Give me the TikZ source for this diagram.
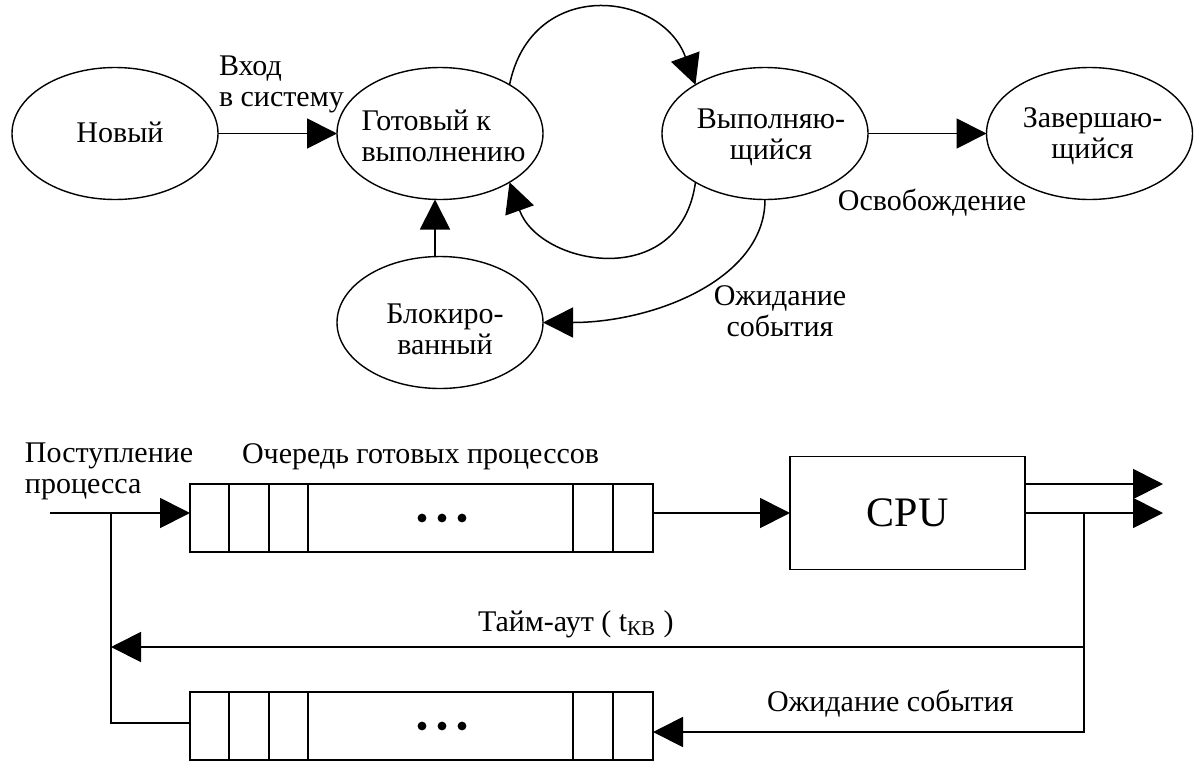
\documentclass[tikz,border=0pt]{standalone}
\usepackage{fontspec}
\setmainfont{Liberation Serif}
\usetikzlibrary{arrows.meta,shapes.geometric}

\begin{document}
\begin{tikzpicture}[x=0.5pt,y=-0.5pt,
  every node/.style={inner sep=0pt, outer sep=0pt},
  txt/.style={font=\fontsize{15}{15.5}\selectfont},
  lbl/.style={txt, align=center},
  state/.style={ellipse, draw, line width=0.7pt, minimum width=103pt, minimum height=66pt},
  arr/.style={line width=0.9pt, -{Triangle[length=15pt,width=15pt]}},
  curvearr/.style={line width=0.75pt, -{Triangle[length=15pt,width=15pt]}},
  wire/.style={line width=0.9pt},
  queue/.style={draw, line width=0.9pt, minimum width=231.5pt, minimum height=34pt},
  cpubox/.style={draw, line width=0.9pt, minimum width=117.5pt, minimum height=56.5pt,
                 font=\fontsize{21}{21}\selectfont},
]
\useasboundingbox (0,0) rectangle (1194,761);

% ---------- process state graph ----------
\node[state, label={[lbl, xshift=2.5pt, yshift=0.75pt]center:Новый}] (new) at (115,133.5) {};
\node[state, label={[txt, align=left, xshift=1.75pt, yshift=-1.25pt]center:{Готовый к\\выполнению}}] (ready) at (440,133.5) {};
\node[state, label={[lbl, xshift=3pt, yshift=-2pt]center:{Выполняю-\\щийся}}] (run) at (765,133.5) {};
\node[state, label={[lbl, xshift=1.5pt, yshift=-1.5pt]center:{Завершаю-\\щийся}}] (fin) at (1089.5,133.5) {};
\node[state, label={[lbl, xshift=2.5pt, yshift=-3.25pt]center:{Блокиро-\\ванный}}] (block) at (440,322.5) {};

\node[txt, align=left, anchor=west] (entry) at (219,84) {Вход\\в систему};
\node[txt] (release) at (932,203) {Освобождение};
\node[lbl] (waitlbl) at (780,311.5) {Ожидание\\события};

\draw[arr] (new) -- (ready);
\draw[arr] (run) -- (fin);
\draw[arr] ([xshift=-2.5pt]block.north) -- ([xshift=-2.5pt]ready.south);
\draw[curvearr] (ready.35) .. controls +(22,-108) and +(-34,-94) .. (run.145);
\draw[curvearr] (run.-145) .. controls +(-15,110) and +(30,84) .. (ready.-35);
\draw[curvearr] (run.south) .. controls +(0,80) and +(110,0) .. (block.east);

% ---------- queueing scheme ----------
\node[queue] (q1) at (421.5,518) {};
\node[queue] (q2) at (421.5,726) {};
\foreach \q in {q1,q2} {
  \foreach \d in {39,79,118,383,423}
    \draw[wire] ([xshift=\d*0.5pt]\q.north west) -- ([xshift=\d*0.5pt]\q.south west);
  \foreach \d in {0.5,20.5,40.5}
    \fill ([xshift=\d*0.5pt]\q.center) circle[radius=2.2pt];
}
\node[cpubox] (cpu) at (907.5,513) {CPU};

\node[txt, align=left, anchor=west] (arrival) at (25,471.5) {Поступление\\процесса};
\node[txt, anchor=base west] (qtitle) at (242,463) {Очередь готовых процессов};
\node[txt, anchor=base west] (tq) at (478,631) {Тайм-аут ( t\textsubscript{КВ} )};
\node[txt, anchor=base west] (wev) at (767,711.5) {Ожидание события};

\coordinate (in) at (50,513);
\coordinate (j)  at (111,513);
\coordinate (jb) at (111,723);
\coordinate (r1) at (1084,513);
\coordinate (tr) at (1084,647);
\coordinate (r2) at (1084,732);
\coordinate (o1) at (1163,484);
\coordinate (o2) at (1163,513);

\draw[arr] (in) -- (in -| q1.west);
\draw[wire] (j) -- (jb) -- (jb -| q2.west);
\draw[arr] (q1.east |- cpu.west) -- (cpu.west);
\draw[arr] (cpu.east |- o1) -- (o1);
\draw[arr] (cpu.east |- o2) -- (o2);
\draw[wire] (r1) -- (tr);
\draw[arr] (tr) -- (tr -| j);
\draw[arr] (tr) -- (r2) -- (r2 -| q2.east);
\end{tikzpicture}
\end{document}
